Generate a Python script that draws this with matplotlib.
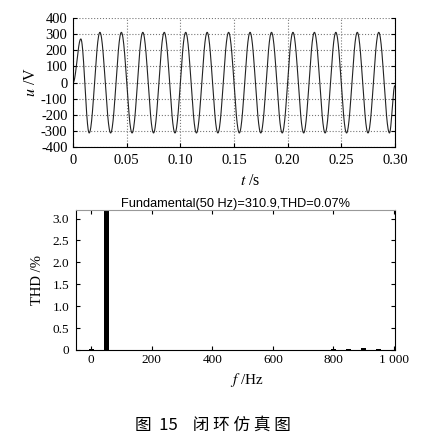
import numpy as np
import matplotlib
matplotlib.use('Agg')
import matplotlib.pyplot as plt

plt.rcParams['font.family'] = ['Liberation Serif', 'DejaVu Serif']
plt.rcParams['mathtext.fontset'] = 'stix'
plt.rcParams['axes.unicode_minus'] = False

# waveform extrema (time in s, voltage in V)
wave_t = [0.0, 0.0072, 0.0150, 0.025, 0.035, 0.045, 0.055, 0.065, 0.075,
          0.085, 0.095, 0.105, 0.115, 0.125, 0.135, 0.145, 0.155, 0.165,
          0.175, 0.185, 0.195, 0.205, 0.215, 0.225, 0.235, 0.245, 0.255,
          0.265, 0.275, 0.285, 0.295, 0.300]
wave_v = [0, 270, -312, 311, -312, 311, -312, 311, -312,
          311, -312, 311, -312, 311, -312, 311, -312, 311,
          -312, 311, -312, 311, -312, 311, -312, 311, -312,
          311, -312, 311, -312, -20]

# harmonic spectrum (Hz, % of fundamental)
harm_f = [0, 50, 100, 150, 200, 250, 300, 350, 400, 450, 500, 550, 600,
          650, 700, 750, 800, 850, 900, 950, 1000]
harm_v = [0.02, 100.0, 0.01, 0.01, 0.01, 0.01, 0.01, 0.01, 0.01, 0.01, 0.01,
          0.01, 0.01, 0.01, 0.01, 0.01, 0.02, 0.025, 0.04, 0.03, 0.0]

t_ticks = [0, 0.05, 0.10, 0.15, 0.20, 0.25, 0.30]
t_labels = ['0', '0.05', '0.10', '0.15', '0.20', '0.25', '0.30']
u_ticks = [-400, -300, -200, -100, 0, 100, 200, 300, 400]
f_ticks = [0, 200, 400, 600, 800, 1000]
f_labels = ['0', '200', '400', '600', '800', '1 000']
thd_ticks = [0, 0.5, 1.0, 1.5, 2.0, 2.5, 3.0]
thd_labels = ['0', '0.5', '1.0', '1.5', '2.0', '2.5', '3.0']


def half_cosine(ts, vs, n=40):
    # smooth curve through extrema, one half-cosine per segment
    xs, ys = [], []
    for i in range(len(ts) - 1):
        s = np.linspace(0, 1, n, endpoint=False)
        xs.append(ts[i] + (ts[i + 1] - ts[i]) * s)
        ys.append(vs[i] + (vs[i + 1] - vs[i]) * (1 - np.cos(np.pi * s)) / 2)
    xs.append([ts[-1]])
    ys.append([vs[-1]])
    return np.concatenate(xs), np.concatenate(ys)


fig = plt.figure(figsize=(4.25, 4.38), dpi=100)

# 1. upper plot: output voltage
ax1 = fig.add_axes([0.172, 0.664, 0.757, 0.295])
tx, uy = half_cosine(wave_t, wave_v)
ax1.plot(tx, uy, color='#222222', lw=0.8)
ax1.set_xlim(0, 0.30)
ax1.set_ylim(-400, 400)
ax1.set_xticks(t_ticks)
ax1.set_xticklabels(t_labels)
ax1.set_yticks(u_ticks)
ax1.grid(True, linestyle=':', color='#777777', lw=0.8)
ax1.spines['top'].set_visible(False)
for s in ['left', 'right', 'bottom']:
    ax1.spines[s].set_linewidth(0.8)
ax1.tick_params(direction='in', length=3, labelsize=10.5, right=True)
ax1.tick_params(axis='x', pad=5)
ax1.tick_params(axis='y', pad=4)
ax1.set_ylabel(r'$u$ /V', fontsize=11.5)
ax1.yaxis.set_label_coords(-0.105, 0.5)
ax1.set_xlabel(r'$t$ /s', fontsize=11.5)
ax1.xaxis.set_label_coords(0.55, -0.20)

# 2. lower plot: harmonic spectrum
ax2 = fig.add_axes([0.179, 0.201, 0.750, 0.320])
ax2.bar(harm_f, harm_v, width=16, color='black')
ax2.set_xlim(-50, 1003)
ax2.set_ylim(0, 3.2)
ax2.set_xticks(f_ticks)
ax2.set_xticklabels(f_labels)
ax2.set_yticks(thd_ticks)
ax2.set_yticklabels(thd_labels)
for s in ax2.spines.values():
    s.set_linewidth(0.8)
ax2.spines['top'].set_color('#999999')
ax2.tick_params(direction='in', length=3, labelsize=9.5, right=True, top=True)
ax2.tick_params(axis='x', pad=3)
ax2.tick_params(axis='y', pad=5)
ax2.set_ylabel('THD /%', fontsize=10.5)
ax2.yaxis.set_label_coords(-0.10, 0.5)
ax2.set_xlabel(r'$f$ /Hz', fontsize=11)
ax2.xaxis.set_label_coords(0.536, -0.15)
ax2.set_title('Fundamental(50 Hz)=310.9,THD=0.07%', fontsize=9.2,
              family=['Liberation Sans', 'DejaVu Sans'], pad=2)

# 3. caption
fig.text(0.50, 0.03, '图  15    闭 环 仿 真 图', fontsize=12, ha='center', va='center',
         family=['Noto Sans CJK SC', 'DejaVu Sans'])

fig.savefig('out.png', dpi=100)
